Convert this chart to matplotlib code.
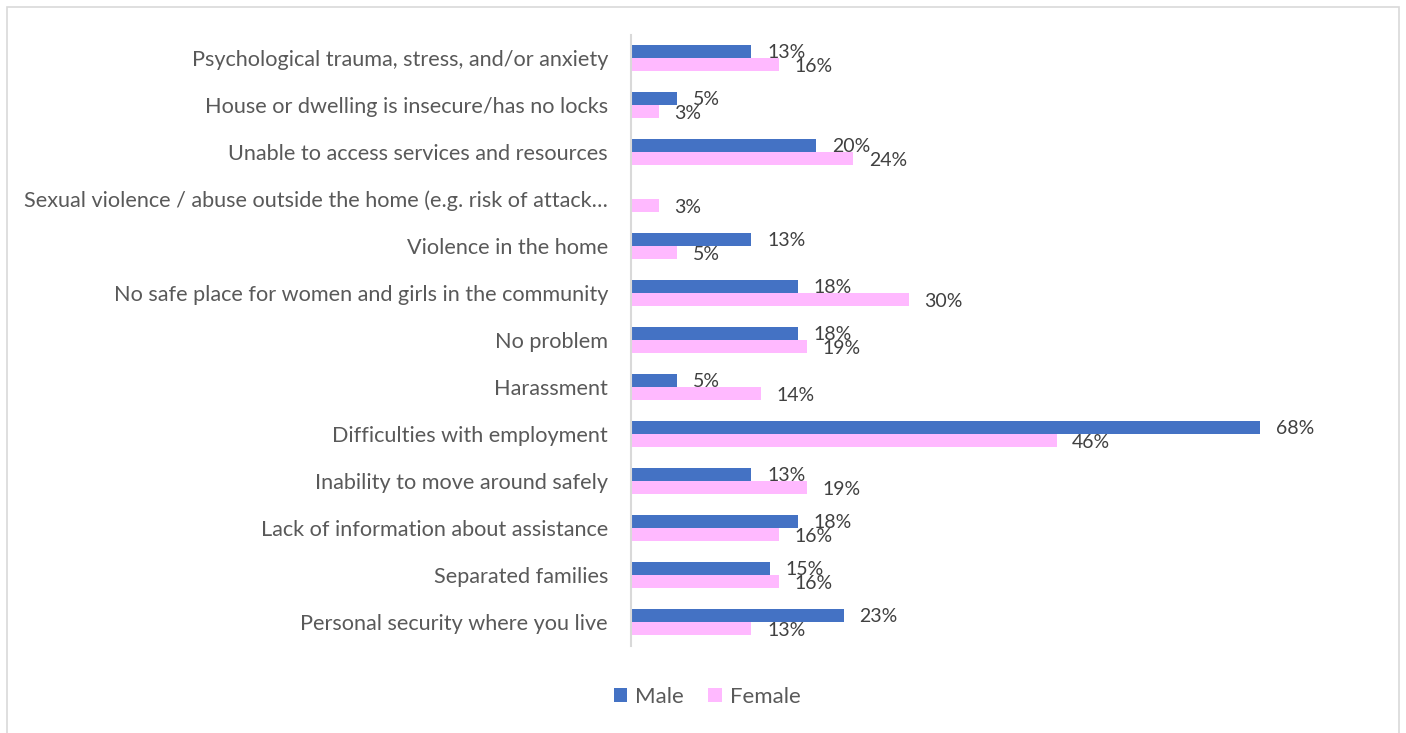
import matplotlib
matplotlib.use("Agg")
import matplotlib.pyplot as plt
from matplotlib.patches import Rectangle
import numpy as np

# Chart data (top to bottom)
categories = [
    "Psychological trauma, stress, and/or anxiety",
    "House or dwelling is insecure/has no locks",
    "Unable to access services and resources",
    "Sexual violence / abuse outside the home (e.g. risk of attack\u2026",
    "Violence in the home",
    "No safe place for women and girls in the community",
    "No problem",
    "Harassment",
    "Difficulties with employment",
    "Inability to move around safely",
    "Lack of information about assistance",
    "Separated families",
    "Personal security where you live",
]
male = [13, 5, 20, None, 13, 18, 18, 5, 68, 13, 18, 15, 23]
female = [16, 3, 24, 3, 5, 30, 19, 14, 46, 19, 16, 16, 13]

male_color = "#4472C4"
female_color = "#FFB9FF"
text_color = "#404040"
tick_color = "#595959"

plt.rcParams["font.family"] = ["Lato", "DejaVu Sans"]

W, H = 1406, 733
fig = plt.figure(figsize=(W / 100, H / 100), dpi=100)

# light grey chart frame
fig.patches.append(Rectangle((7 / W, -0.05), (1399 - 7) / W, 1.05 - 7 / H,
                             transform=fig.transFigure, fill=False,
                             edgecolor="#D9D9D9", linewidth=1.2))

left, right = 631 / W, 1371 / W
top, bottom = 1 - 34.5 / H, 1 - 645.5 / H
ax = fig.add_axes([left, bottom, right - left, top - bottom])

y = np.arange(len(categories))
h = 0.27
male_vals = [v if v is not None else 0 for v in male]
ax.barh(y - h / 2, male_vals, height=h, color=male_color, label="Male")
ax.barh(y + h / 2, female, height=h, color=female_color, label="Female")

for i, v in enumerate(male):
    if v is not None:
        ax.text(v + 1.7, i - h / 2 + 0.02, f"{v}%", va="center", ha="left",
                fontsize=14, color=text_color)
for i, v in enumerate(female):
    ax.text(v + 1.7, i + h / 2 + 0.05, f"{v}%", va="center", ha="left",
            fontsize=14, color=text_color)

ax.set_xlim(0, 80)
ax.set_ylim(len(categories) - 0.5, -0.5)
ax.set_yticks(y)
ax.set_yticklabels(categories, fontsize=15.6, color=tick_color)
ax.tick_params(axis="y", length=0, pad=16.5)
ax.set_xticks([])
for s in ["top", "right", "bottom"]:
    ax.spines[s].set_visible(False)
ax.spines["left"].set_color("#D9D9D9")
ax.spines["left"].set_linewidth(1.5)

fig.legend(loc="center", bbox_to_anchor=(0.503, 1 - 697 / H), ncol=2,
           frameon=False, fontsize=16, labelcolor=tick_color,
           handlelength=0.6, handleheight=0.6, handletextpad=0.35,
           columnspacing=1.1)

fig.savefig("out.png", dpi=100)
